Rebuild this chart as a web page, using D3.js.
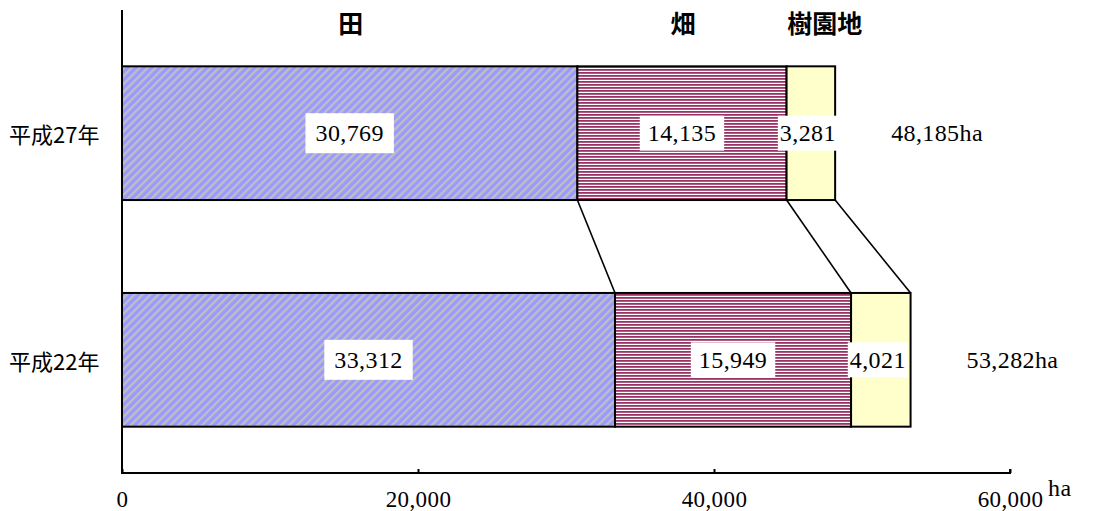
<!DOCTYPE html>
<html>
    <head>
        <meta charset="utf-8">
        <title>耕地面積</title>
        <script src="https://d3js.org/d3.v7.min.js"></script>
        <style>
            body {
                margin: 0;
                background: white;
            }
            .cat {
                font-family: "Noto Sans CJK JP", sans-serif;
                font-size: 22px;
            }
            .head {
                font-family: "Noto Sans CJK JP", sans-serif;
                font-size: 25px;
                font-weight: bold;
            }
            .num {
                font-family: "Liberation Serif", serif;
                font-size: 24px;
                letter-spacing: 0.4px;
            }
        </style>
    </head>
    <body>
        <svg id="chart" width="1093" height="511"></svg>

        <script>
            // data (ha)
            let years = ["平成27年", "平成22年"]
            let kinds = ["田", "畑", "樹園地"]
            let ta = [30769, 33312]
            let hatake = [14135, 15949]
            let juen = [3281, 4021]
            let xTicks = [0, 20000, 40000, 60000]

            let svg = d3.select("#chart")

            let rows = years.map(function (y, i) {
                let vals = [ta[i], hatake[i], juen[i]]
                let x0 = 0
                let segs = vals.map(function (v, k) {
                    let s = {kind: kinds[k], k: k, v: v, x0: x0, x1: x0 + v}
                    x0 += v
                    return s
                })
                return {year: y, segs: segs, total: d3.sum(vals)}
            })

            let x = d3.scaleLinear().domain([0, 60000]).range([122, 1010])
            let y = d3.scaleBand().domain(years)
                .range([21, 472]).paddingInner(0.41).paddingOuter(0.2)
            let axisY = 473

            // fill patterns
            let defs = svg.append("defs")
            let p1 = defs.append("pattern").attr("id", "pat0")
                .attr("patternUnits", "userSpaceOnUse")
                .attr("width", 5.6).attr("height", 5.6)
                .attr("patternTransform", "rotate(45)")
            p1.append("rect").attr("width", 5.6).attr("height", 5.6).attr("fill", "#9999ff")
            p1.append("rect").attr("width", 2.3).attr("height", 5.6).attr("fill", "#c0c0c0")

            let p2 = defs.append("pattern").attr("id", "pat1")
                .attr("patternUnits", "userSpaceOnUse")
                .attr("width", 6).attr("height", 3)
            p2.append("rect").attr("width", 6).attr("height", 3).attr("fill", "#ffffff")
            p2.append("rect").attr("width", 6).attr("height", 1.8).attr("fill", "#993366")

            let fills = ["url(#pat0)", "url(#pat1)", "#ffffcc"]

            // connector lines between the two bars
            let bounds = [0, 1, 2].map(k => [rows[0].segs[k].x1, rows[1].segs[k].x1])
            svg.append("g").selectAll("line")
                .data(bounds)
                .enter()
                .append("line")
                .attr("x1", d => x(d[0]))
                .attr("y1", y(years[0]) + y.bandwidth())
                .attr("x2", d => x(d[1]))
                .attr("y2", y(years[1]))
                .attr("stroke", "black")
                .attr("stroke-width", 1.6)

            // bars
            let rowG = svg.append("g").selectAll("g")
                .data(rows)
                .enter()
                .append("g")

            rowG.selectAll("rect")
                .data(d => d.segs)
                .enter()
                .append("rect")
                .attr("x", d => x(d.x0))
                .attr("width", d => x(d.x1) - x(d.x0))
                .attr("y", function () { return y(d3.select(this.parentNode).datum().year) })
                .attr("height", y.bandwidth())
                .attr("fill", d => fills[d.k])
                .attr("stroke", "black")
                .attr("stroke-width", 2)

            // value labels in white boxes
            let fmt = d3.format(",")
            rowG.each(function (r) {
                let g = d3.select(this)
                let cy = y(r.year) + y.bandwidth() / 2
                r.segs.forEach(function (s) {
                    let cx = (x(s.x0) + x(s.x1)) / 2
                    if (s.k == 2) cx -= 3
                    let t = g.append("text")
                        .attr("class", "num")
                        .attr("x", cx)
                        .attr("y", cy)
                        .attr("text-anchor", "middle")
                        .attr("dominant-baseline", "central")
                        .text(fmt(s.v))
                    let bb = t.node().getBBox()
                    let padX = s.k == 2 ? 2 : (s.k == 0 ? 10 : 8)
                    let h = s.k == 0 ? 40 : 35
                    g.insert("rect", "text")
                        .attr("x", bb.x - padX)
                        .attr("y", cy - h / 2)
                        .attr("width", bb.width + 2 * padX)
                        .attr("height", h)
                        .attr("fill", "white")
                })
                g.append("text")
                    .attr("class", "num")
                    .attr("x", x(r.total) + 56)
                    .attr("y", cy)
                    .attr("dominant-baseline", "central")
                    .text(fmt(r.total) + "ha")
            })

            // category labels
            svg.append("g").selectAll("text")
                .data(years)
                .enter()
                .append("text")
                .attr("class", "cat")
                .attr("x", 9)
                .attr("y", d => y(d) + y.bandwidth() / 2)
                .attr("dominant-baseline", "central")
                .text(d => d)

            // headings over the top bar
            svg.append("g").selectAll("text")
                .data(rows[0].segs)
                .enter()
                .append("text")
                .attr("class", "head")
                .attr("x", d => (x(d.x0) + x(d.x1)) / 2 + (d.k == 2 ? 14 : 1))
                .attr("y", 22)
                .attr("text-anchor", "middle")
                .attr("dominant-baseline", "central")
                .text(d => d.kind)

            // axes
            svg.append("line")
                .attr("x1", x(0)).attr("x2", x(0))
                .attr("y1", 10).attr("y2", axisY)
                .attr("stroke", "black").attr("stroke-width", 2)

            let xAxis = d3.axisBottom(x).tickValues(xTicks)
                .tickSize(-4).tickPadding(27)
                .tickFormat(d3.format(","))
            let gx = svg.append("g")
                .attr("transform", "translate(0," + axisY + ")")
                .call(xAxis)
            gx.select(".domain").attr("stroke-width", 2).attr("d", "M" + x(0) + ",-4V0H" + x(60000) + "V-4")
            gx.selectAll(".tick line").attr("stroke-width", 2)
            gx.selectAll(".tick text")
                .attr("class", "num")
                .attr("font-family", null).attr("font-size", null)
                .style("font-size", "23px")
                .attr("fill", "black")
                .attr("dy", "0.3em")

            svg.append("text")
                .attr("class", "num")
                .attr("x", x(60000) + 38)
                .attr("y", 488)
                .attr("dominant-baseline", "central")
                .style("font-size", "24px")
                .text("ha")
        </script>
    </body>
</html>
